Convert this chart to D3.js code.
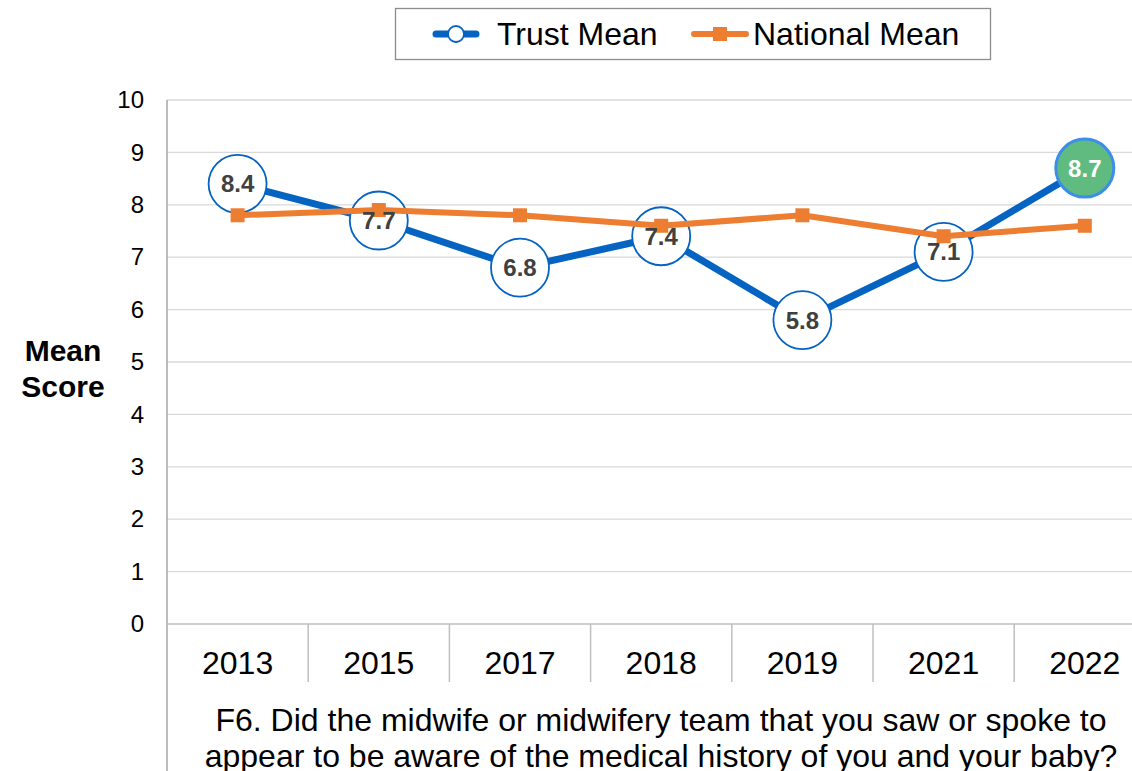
<!DOCTYPE html>
<html>
<head>
<meta charset="utf-8">
<script src="https://cdn.jsdelivr.net/npm/d3@7/dist/d3.min.js"></script>
<style>
  html, body { margin: 0; padding: 0; background: #fff; }
  svg { display: block; font-family: Arial, "Liberation Sans", sans-serif; }
</style>
</head>
<body>
<svg id="chart" width="1132" height="771"></svg>
<script>
// Survey years and mean scores
const years = ["2013", "2015", "2017", "2018", "2019", "2021", "2022"];
const trustMean = [8.4, 7.7, 6.8, 7.4, 5.8, 7.1, 8.7];
const nationalMean = [7.8, 7.9, 7.8, 7.6, 7.8, 7.4, 7.6];
const yTicks = [0, 1, 2, 3, 4, 5, 6, 7, 8, 9, 10];
const questionLines = [
  "F6. Did the midwife or midwifery team that you saw or spoke to",
  "appear to be aware of the medical history of you and your baby?"
];

const svg = d3.select("#chart");
const plotLeft = 167, plotTop = 100, plotBottom = 624, step = 141.2;
const plotRight = plotLeft + step * years.length;

const x = d3.scaleBand().domain(years).range([plotLeft, plotRight]).padding(0);
const y = d3.scaleLinear().domain([0, 10]).range([plotBottom, plotTop]);
const cx = d => x(d) + x.bandwidth() / 2;

const blue = "#0563C1", orange = "#ED7D31", grid = "#D9D9D9", axisGray = "#BFBFBF";
const fontStack = "Arial, 'Liberation Sans', sans-serif";

// horizontal gridlines
svg.append("g").selectAll("line").data(yTicks.filter(t => t > 0)).join("line")
  .attr("x1", plotLeft).attr("x2", 1132)
  .attr("y1", d => y(d)).attr("y2", d => y(d))
  .attr("stroke", grid).attr("stroke-width", 1.3);

// y axis
const yAxis = d3.axisLeft(y).tickValues(yTicks).tickSize(0).tickPadding(23);
const gy = svg.append("g").attr("transform", `translate(${plotLeft},0)`).call(yAxis);
gy.select(".domain").remove();
gy.selectAll("text").attr("font-size", 24).attr("fill", "#000").attr("font-family", fontStack);

// left axis line running down through category and question area
svg.append("line").attr("x1", plotLeft).attr("x2", plotLeft).attr("y1", plotTop).attr("y2", 771)
  .attr("stroke", "#A6A6A6").attr("stroke-width", 1.5);

// bottom axis line
svg.append("line").attr("x1", plotLeft).attr("x2", 1132).attr("y1", plotBottom).attr("y2", plotBottom)
  .attr("stroke", axisGray).attr("stroke-width", 1.5);

// category separators
svg.append("g").selectAll("line").data(years.slice(1)).join("line")
  .attr("x1", d => x(d)).attr("x2", d => x(d))
  .attr("y1", plotBottom).attr("y2", 682)
  .attr("stroke", axisGray).attr("stroke-width", 1.5);

// x axis labels
const gx = svg.append("g").attr("transform", `translate(0,${plotBottom})`)
  .call(d3.axisBottom(x).tickSize(0).tickPadding(27));
gx.select(".domain").remove();
gx.selectAll("text").attr("font-size", 32).attr("fill", "#000").attr("font-family", fontStack);

// question text
svg.append("g").selectAll("text").data(questionLines).join("text")
  .attr("x", 661).attr("y", (d, i) => 731 + i * 35.5)
  .attr("text-anchor", "middle").attr("font-size", 32).attr("fill", "#000")
  .text(d => d);

// y axis title
svg.append("text").attr("x", 63).attr("text-anchor", "middle")
  .attr("font-size", 30).attr("font-weight", "bold").attr("fill", "#000")
  .selectAll("tspan").data(["Mean", "Score"]).join("tspan")
  .attr("x", 63).attr("y", (d, i) => 361 + i * 35.5).text(d => d);

// trust line
const line = d3.line().x((d, i) => cx(years[i])).y(d => y(d));
svg.append("path").datum(trustMean).attr("d", line)
  .attr("fill", "none").attr("stroke", blue).attr("stroke-width", 7)
  .attr("stroke-linejoin", "round");

// trust markers
const last = trustMean.length - 1;
svg.append("g").selectAll("circle").data(trustMean).join("circle")
  .attr("cx", (d, i) => cx(years[i])).attr("cy", d => y(d))
  .attr("r", 29)
  .attr("fill", (d, i) => i === last ? "#5FBB7F" : "#fff")
  .attr("stroke", (d, i) => i === last ? "#3D8EEA" : blue)
  .attr("stroke-width", (d, i) => i === last ? 3 : 1.8);

// national line and markers
svg.append("path").datum(nationalMean).attr("d", line)
  .attr("fill", "none").attr("stroke", orange).attr("stroke-width", 6)
  .attr("stroke-linejoin", "round");
svg.append("g").selectAll("rect").data(nationalMean).join("rect")
  .attr("x", (d, i) => cx(years[i]) - 7).attr("y", d => y(d) - 7)
  .attr("width", 14).attr("height", 14).attr("fill", orange);

// trust value labels
svg.append("g").selectAll("text").data(trustMean).join("text")
  .attr("x", (d, i) => cx(years[i])).attr("y", d => y(d) + 8.5)
  .attr("text-anchor", "middle").attr("font-size", 24).attr("font-weight", "bold")
  .attr("fill", (d, i) => i === last ? "#fff" : "#404040")
  .text(d => d.toFixed(1));

// legend
const lg = svg.append("g");
lg.append("rect").attr("x", 395.5).attr("y", 8.5).attr("width", 595).attr("height", 51)
  .attr("fill", "#fff").attr("stroke", "#8C8C8C").attr("stroke-width", 1.3);
lg.append("line").attr("x1", 436).attr("x2", 476).attr("y1", 34).attr("y2", 34)
  .attr("stroke", blue).attr("stroke-width", 7).attr("stroke-linecap", "round");
lg.append("circle").attr("cx", 456).attr("cy", 34).attr("r", 8)
  .attr("fill", "#fff").attr("stroke", blue).attr("stroke-width", 1.8);
lg.append("text").attr("x", 497).attr("y", 45).attr("font-size", 32).attr("fill", "#000")
  .text("Trust Mean");
lg.append("line").attr("x1", 694).attr("x2", 746).attr("y1", 34).attr("y2", 34)
  .attr("stroke", orange).attr("stroke-width", 6).attr("stroke-linecap", "round");
lg.append("rect").attr("x", 713).attr("y", 27).attr("width", 14).attr("height", 14)
  .attr("fill", orange);
lg.append("text").attr("x", 753).attr("y", 45).attr("font-size", 32).attr("fill", "#000")
  .text("National Mean");
</script>
</body>
</html>
